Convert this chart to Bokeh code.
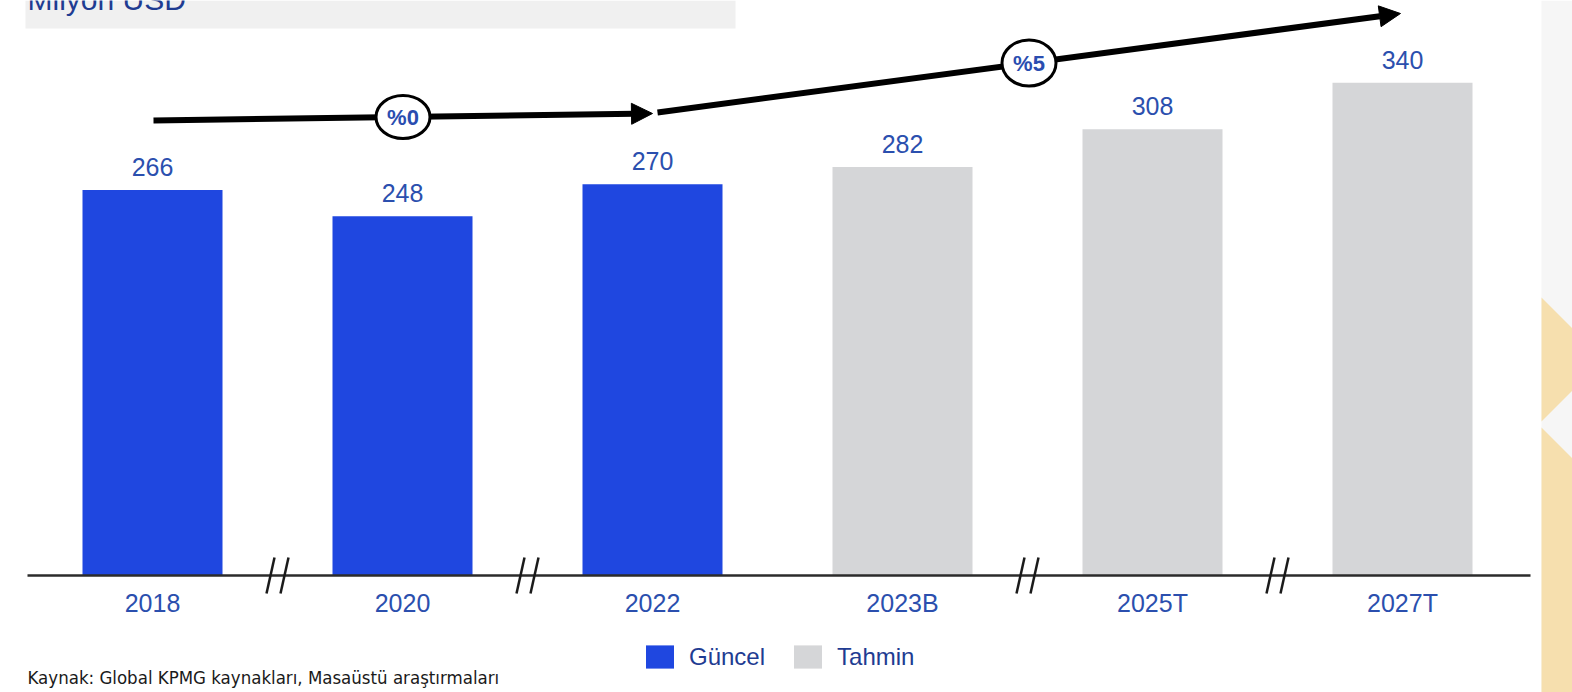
from bokeh.plotting import figure
from bokeh.models import Range1d, Arrow, NormalHead, Legend, LegendItem
from bokeh.core.properties import value
from bokeh.embed import file_html
from bokeh.resources import INLINE

# ---------------- data ----------------
categories = ["2018", "2020", "2022", "2023B", "2025T", "2027T"]
actual_years = ["2018", "2020", "2022"]
actual_values = [266, 248, 270]
forecast_years = ["2023B", "2025T", "2027T"]
forecast_values = [282, 308, 340]
growth_labels = ["%0", "%5"]
legend_labels = ["Güncel", "Tahmin"]
unit_title = "Milyon USD"
source_note = "Kaynak: Global KPMG kaynakları, Masaüstü araştırmaları"

# ---------------- layout helpers (reference pixel -> data) ----------------
W, H = 1572, 692
MARGIN = 0
X0_REF, DX = 152.0, 250.0      # ref-x of first category centre, px per category
Y0_REF, PY = 575.0, 1.449      # ref-y of value 0, px per unit


def dx(rx):
    return (rx - X0_REF) / DX


def dy(ry):
    return (Y0_REF - ry) / PY


def px_x(n):
    return n / DX


def px_y(n):
    return n / PY


BLUE = "#1f47e0"
GREY = "#d5d6d8"
LABEL = "#2b4fae"
NAVY = "#1f3c92"
FONT = "Liberation Sans"

p = figure(width=W, height=H, output_backend="svg", toolbar_location=None,
           x_range=Range1d(dx(MARGIN), dx(MARGIN + W)),
           y_range=Range1d(dy(MARGIN + H), dy(MARGIN)),
           x_axis_type=None, y_axis_type=None, min_border=0,
           outline_line_color=None, background_fill_color="white",
           border_fill_color="white")
p.grid.visible = False

# title box
p.quad(left=[dx(25)], right=[dx(735)], top=[dy(MARGIN)], bottom=[dy(28)],
       fill_color="#f0f0f0", line_color=None)
p.text(x=[dx(27)], y=[dy(-1)], text=[unit_title], text_font=value(FONT),
       text_font_size="30px", text_color=NAVY, text_baseline="alphabetic",
       text_align="left")

# right decorative panel
p.quad(left=[dx(1541)], right=[dx(MARGIN + W)], top=[dy(MARGIN)], bottom=[dy(MARGIN + H)],
       fill_color="#f6f6f6", line_color=None)
p.patches(xs=[[dx(1541), dx(1572), dx(1572), dx(1541)],
              [dx(1541), dx(1572), dx(1572), dx(1541)]],
          ys=[[dy(297), dy(328), dy(390), dy(421)],
              [dy(427), dy(458), dy(700), dy(700)]],
          fill_color="#f6dfae", line_color=None)

# bars
idx = {c: i for i, c in enumerate(categories)}
ax = [idx[c] for c in actual_years]
fx = [idx[c] for c in forecast_years]
bw = 140 / DX
r_act = p.vbar(x=ax, top=actual_values, bottom=0, width=bw, fill_color=BLUE, line_color=None)
r_fc = p.vbar(x=fx, top=forecast_values, bottom=0, width=bw, fill_color=GREY, line_color=None)

# value labels
p.text(x=ax + fx, y=actual_values + forecast_values,
       text=[str(v) for v in actual_values + forecast_values],
       text_font=value(FONT), text_font_size="25px", text_color=LABEL,
       text_align="center", text_baseline="alphabetic", y_offset=-23)

# axis line + category labels
p.segment(x0=[dx(27)], y0=[0], x1=[dx(1530)], y1=[0], line_color="#2b2b2b", line_width=2.5)
p.text(x=list(range(len(categories))), y=[0] * len(categories), text=categories,
       text_font=value(FONT), text_font_size="25px", text_color=LABEL,
       text_align="center", text_baseline="alphabetic", y_offset=27)

# axis breaks between non-consecutive years
breaks = [0.5, 1.5, 3.5, 4.5]
bx0, by0, bx1, by1 = [], [], [], []
for b in breaks:
    for off in (-7, 7):
        bx0.append(b + px_x(off - 4))
        by0.append(-px_y(18))
        bx1.append(b + px_x(off + 4))
        by1.append(px_y(18))
p.segment(x0=bx0, y0=by0, x1=bx1, y1=by1, line_color="#1a1a1a", line_width=2.5)

# growth arrows
arrows = [((dx(153), dy(120)), (dx(652), dy(113))),
          ((dx(657), dy(112)), (dx(1400), dy(13)))]
for (xs, ys), (xe, ye) in arrows:
    p.add_layout(Arrow(end=NormalHead(size=21, fill_color="black", line_color="black", line_width=1),
                       x_start=xs, y_start=ys, x_end=xe, y_end=ye,
                       line_width=6, line_color="black"))

cx = [(arrows[0][0][0] + arrows[0][1][0]) / 2, (arrows[1][0][0] + arrows[1][1][0]) / 2]
cy = [(arrows[0][0][1] + arrows[0][1][1]) / 2, (arrows[1][0][1] + arrows[1][1][1]) / 2]
p.ellipse(x=cx, y=cy, width=[54, 54], height=[43, 46], width_units="screen",
          height_units="screen", fill_color="white", line_color="black", line_width=3,
          level="overlay")
p.text(x=cx, y=cy, text=growth_labels, text_font=value(FONT), text_font_size="22px",
       text_font_style="bold", text_color="#2a4db0", text_align="center",
       text_baseline="middle", level="overlay")

# legend
legend = Legend(items=[LegendItem(label=legend_labels[0], renderers=[r_act]),
                       LegendItem(label=legend_labels[1], renderers=[r_fc])],
                orientation="horizontal", location=(642, 21),
                glyph_width=35, glyph_height=29, label_standoff=12, spacing=25,
                padding=0, margin=0, border_line_alpha=0, background_fill_alpha=0,
                label_text_font=FONT, label_text_font_size="24px",
                label_text_color=NAVY)
p.add_layout(legend)

# source note
p.text(x=[dx(27)], y=[dy(677)], text=[source_note], text_font=value("DejaVu Sans Condensed"),
       text_font_size="18.5px", text_color="#1a1a1a", text_align="left",
       text_baseline="alphabetic")

open("out.html", "w").write(file_html(p, INLINE))
